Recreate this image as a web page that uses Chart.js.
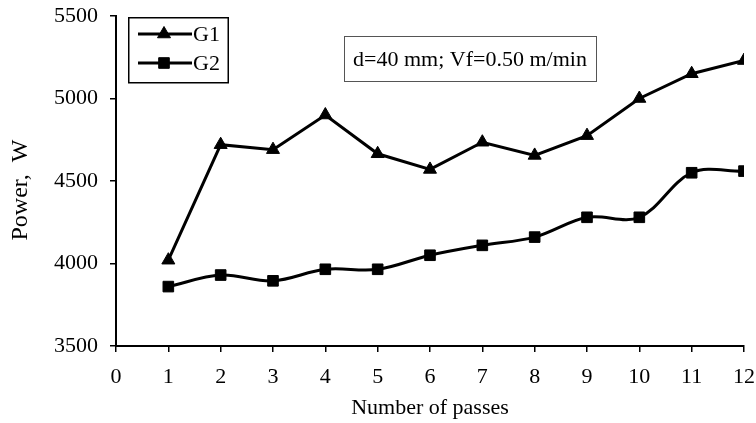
<!DOCTYPE html>
<html>
<head>
<meta charset="utf-8">
<script src="https://cdn.jsdelivr.net/npm/chart.js@4/dist/chart.umd.min.js"></script>
<style>
    html, body { margin: 0; padding: 0; background: #ffffff; }
    #wrap { width: 756px; height: 423px; }
</style>
</head>
<body>
<div id="wrap"><canvas id="powerChart" width="756" height="423"></canvas></div>
<script>
// Power per pass, two grinding wheels
const passes = [1, 2, 3, 4, 5, 6, 7, 8, 9, 10, 11, 12];
const g1Power = [4020, 4720, 4690, 4900, 4665, 4570, 4735, 4655, 4775, 5000, 5150, 5230];
const g2Power = [3860, 3930, 3895, 3965, 3965, 4050, 4110, 4160, 4280, 4280, 4550, 4560];
const seriesNames = ['G1', 'G2'];
const noteText = 'd=40 mm; Vf=0.50 m/min';
const yTitle = 'Power,  W';
const xTitle = 'Number of passes';

const FONT = 'Liberation Serif, Times New Roman, serif';
const INK = '#000000';

function toPoints(values) {
    return passes.map((p, i) => ({ x: p, y: values[i] }));
}

// Small marker painter used by the boxed legend
function drawMarker(ctx, style, x, y, r) {
    ctx.beginPath();
    if (style === 'triangle') {
        for (let k = 0; k < 3; k++) {
            const a = k * 2 * Math.PI / 3;
            const px = x + Math.sin(a) * r;
            const py = y - Math.cos(a) * r;
            k === 0 ? ctx.moveTo(px, py) : ctx.lineTo(px, py);
        }
        ctx.closePath();
    } else {
        const s = Math.SQRT1_2 * r;
        ctx.rect(x - s, y - s, 2 * s, 2 * s);
    }
    ctx.fill();
    ctx.stroke();
}

const boxesPlugin = {
    id: 'boxes',
    beforeDraw(chart) {
        const ctx = chart.ctx;
        ctx.save();
        ctx.fillStyle = '#ffffff';
        ctx.fillRect(0, 0, chart.width, chart.height);
        ctx.restore();
    },
    afterDraw(chart) {
        const ctx = chart.ctx;
        const area = chart.chartArea;
        ctx.save();

        // y axis title, a little below the middle of the axis
        ctx.save();
        ctx.translate(21, (area.top + area.bottom) / 2 + 9);
        ctx.rotate(-Math.PI / 2);
        ctx.fillStyle = INK;
        ctx.font = '24px ' + FONT;
        ctx.textAlign = 'center';
        ctx.textBaseline = 'middle';
        ctx.fillText(yTitle, 0, 0);
        ctx.restore();

        // legend box
        ctx.fillStyle = '#ffffff';
        ctx.fillRect(128, 17, 101, 66);
        ctx.strokeStyle = INK;
        ctx.lineWidth = 1.5;
        ctx.strokeRect(128.75, 17.75, 99.5, 65);

        const rows = [34, 63];
        chart.data.datasets.forEach((ds, i) => {
            const y = rows[i];
            ctx.strokeStyle = INK;
            ctx.lineWidth = 3;
            ctx.beginPath();
            ctx.moveTo(138, y);
            ctx.lineTo(192, y);
            ctx.stroke();
            ctx.fillStyle = INK;
            ctx.lineWidth = 1;
            drawMarker(ctx, ds.pointStyle, 164, y, ds.pointRadius);
            ctx.font = '22px ' + FONT;
            ctx.textAlign = 'left';
            ctx.textBaseline = 'middle';
            ctx.fillText(ds.label, 193, y + 1);
        });

        // note box
        ctx.fillStyle = '#ffffff';
        ctx.fillRect(344, 36, 253, 46);
        ctx.strokeStyle = '#555555';
        ctx.lineWidth = 1;
        ctx.strokeRect(344.5, 36.5, 252, 45);
        ctx.fillStyle = INK;
        ctx.font = '22px ' + FONT;
        ctx.textAlign = 'center';
        ctx.textBaseline = 'middle';
        ctx.fillText(noteText, 470, 60);

        ctx.restore();
    }
};

new Chart(document.getElementById('powerChart').getContext('2d'), {
    type: 'line',
    data: {
        datasets: [
            {
                label: seriesNames[0],
                data: toPoints(g1Power),
                borderColor: INK,
                backgroundColor: INK,
                borderWidth: 3,
                tension: 0,
                pointStyle: 'triangle',
                pointRadius: 7.5,
                pointBorderWidth: 1,
                pointBackgroundColor: INK,
                pointBorderColor: INK
            },
            {
                label: seriesNames[1],
                data: toPoints(g2Power),
                borderColor: INK,
                backgroundColor: INK,
                borderWidth: 3,
                tension: 0.35,
                pointStyle: 'rect',
                pointRadius: 7.5,
                pointBorderWidth: 1,
                pointBackgroundColor: INK,
                pointBorderColor: INK
            }
        ]
    },
    options: {
        responsive: false,
        animation: false,
        layout: { padding: { left: 0, right: 0, top: 0, bottom: 0 } },
        plugins: {
            legend: { display: false },
            tooltip: { enabled: false }
        },
        scales: {
            x: {
                type: 'linear',
                min: 0,
                max: 12,
                afterFit(scale) {
                    scale.height = 77;
                    scale.paddingLeft = 0;
                    scale.paddingRight = 12;
                },
                border: { display: true, color: INK, width: 2 },
                grid: { drawOnChartArea: false, drawTicks: true, tickLength: 6, color: INK, lineWidth: 1.5 },
                ticks: {
                    stepSize: 1,
                    color: INK,
                    padding: 12,
                    font: { family: FONT, size: 22 }
                },
                title: {
                    display: true,
                    text: xTitle,
                    color: INK,
                    padding: { top: 0, bottom: 2 },
                    font: { family: FONT, size: 22 }
                }
            },
            y: {
                min: 3500,
                max: 5500,
                afterFit(scale) {
                    scale.width = 116;
                    scale.paddingTop = 16;
                    scale.paddingBottom = 0;
                },
                border: { display: true, color: INK, width: 2 },
                grid: { drawOnChartArea: false, drawTicks: true, tickLength: 6, color: INK, lineWidth: 1.5 },
                ticks: {
                    stepSize: 500,
                    color: INK,
                    padding: 12,
                    font: { family: FONT, size: 22 },
                    callback: value => String(value)
                }
            }
        }
    },
    plugins: [boxesPlugin]
});
</script>
</body>
</html>
